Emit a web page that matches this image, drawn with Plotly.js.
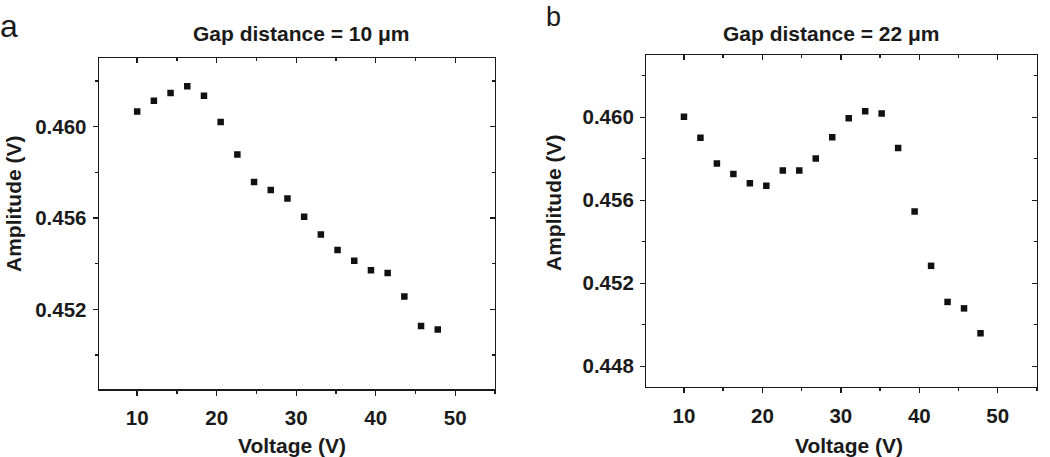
<!DOCTYPE html>
<html>
<head>
<meta charset="utf-8">
<script src="https://cdn.plot.ly/plotly-3.0.1.min.js"></script>
<style>
html,body{margin:0;padding:0;background:#fff;}
#chart{width:1050px;height:457px;}
</style>
</head>
<body>
<div id="chart"></div>
<script>
const voltage = [10, 12.1, 14.2, 16.3, 18.4, 20.5, 22.6, 24.7, 26.8, 28.9, 31.0, 33.1, 35.2, 37.3, 39.4, 41.5, 43.6, 45.7, 47.8];
const ampGap10 = [0.46067, 0.46114, 0.46148, 0.46178, 0.46136, 0.46021, 0.45879, 0.45758, 0.45723, 0.45686, 0.45606, 0.45528, 0.45460, 0.45413, 0.45372, 0.45359, 0.45257, 0.45127, 0.45112];
const ampGap22 = [0.46003, 0.45901, 0.45777, 0.45727, 0.45682, 0.45670, 0.45743, 0.45743, 0.45801, 0.45904, 0.45995, 0.46029, 0.46018, 0.45852, 0.45546, 0.45284, 0.45110, 0.45079, 0.44959];
const titleA = 'Gap distance = 10 μm';
const titleB = 'Gap distance = 22 μm';
const xTitle = 'Voltage (V)';
const yTitle = 'Amplitude (V)';

const FONT = 'Liberation Sans, Arial, Helvetica, sans-serif';
const INK = '#1a1a1a';
const xRange = [5.2, 55];
const yRangeA = [0.4485, 0.4630];
const yRangeB = [0.4470, 0.4630];

const markerStyle = {symbol: 'square', size: 6.5, color: '#111'};
const hidden = {size: 1, opacity: 0};

// x3/y3 and x4/y4 are separate (non-overlaying) subplots sitting on the same frames;
// they only carry the inward top/right ticks.
const data = [
  {x: voltage, y: ampGap10, type: 'scatter', mode: 'markers', marker: markerStyle, xaxis: 'x', yaxis: 'y', hoverinfo: 'x+y'},
  {x: voltage, y: ampGap22, type: 'scatter', mode: 'markers', marker: markerStyle, xaxis: 'x2', yaxis: 'y2', hoverinfo: 'x+y'},
  {x: voltage, y: ampGap10, type: 'scatter', mode: 'markers', marker: hidden, xaxis: 'x3', yaxis: 'y3', hoverinfo: 'skip'},
  {x: voltage, y: ampGap22, type: 'scatter', mode: 'markers', marker: hidden, xaxis: 'x4', yaxis: 'y4', hoverinfo: 'skip'}
];

const tickFont = {family: FONT, size: 20.5, color: INK, weight: 'bold'};

function baseX(domain, anchor) {
  return {
    domain: domain, anchor: anchor, range: xRange, showgrid: false, zeroline: false,
    showline: true, mirror: true, linecolor: INK, linewidth: 1.4,
    tickmode: 'linear', tick0: 0, dtick: 10, ticks: 'outside', ticklen: 5, tickwidth: 1.4, tickcolor: INK,
    minor: {tickmode: 'linear', tick0: 0, dtick: 5, ticks: 'outside', ticklen: 3, tickwidth: 1.4, tickcolor: INK, showgrid: false},
    tickfont: tickFont, ticklabelstandoff: 5
  };
}
function baseY(domain, anchor, range) {
  return {
    domain: domain, anchor: anchor, range: range, showgrid: false, zeroline: false,
    showline: true, mirror: true, linecolor: INK, linewidth: 1.4,
    tickmode: 'linear', tick0: 0.448, dtick: 0.004, tickformat: '.3f',
    ticks: 'outside', ticklen: 5, tickwidth: 1.4, tickcolor: INK,
    minor: {tickmode: 'linear', tick0: 0.448, dtick: 0.002, ticks: 'outside', ticklen: 3, tickwidth: 1.4, tickcolor: INK, showgrid: false},
    tickfont: tickFont, ticklabelstandoff: 2
  };
}
function topX(domain, anchor) {
  return {
    domain: domain, anchor: anchor, side: 'top', range: xRange, showgrid: false, zeroline: false,
    showline: false, showticklabels: false,
    tickmode: 'linear', tick0: 0, dtick: 10, ticks: 'inside', ticklen: 5, tickwidth: 1.4, tickcolor: INK,
    minor: {tickmode: 'linear', tick0: 0, dtick: 5, ticks: 'inside', ticklen: 3, tickwidth: 1.4, tickcolor: INK, showgrid: false}
  };
}
function rightY(domain, anchor, range) {
  return {
    domain: domain, anchor: anchor, side: 'right', range: range, showgrid: false, zeroline: false,
    showline: false, showticklabels: false,
    tickmode: 'linear', tick0: 0.448, dtick: 0.004, ticks: 'inside', ticklen: 5, tickwidth: 1.4, tickcolor: INK,
    minor: {tickmode: 'linear', tick0: 0.448, dtick: 0.002, ticks: 'inside', ticklen: 3, tickwidth: 1.4, tickcolor: INK, showgrid: false}
  };
}

const domXA = [99/1050, 495/1050];
const domXB = [646.3/1050, 1037/1050];
const domYA = [67.7/457, 398.7/457];
const domYB = [70/457, 402/457];

const titleFont = {family: FONT, size: 21, color: INK, weight: 'bold'};

const layout = {
  width: 1050, height: 457,
  margin: {l: 0, r: 0, t: 0, b: 0, pad: 0},
  paper_bgcolor: '#fff', plot_bgcolor: 'rgba(0,0,0,0)',
  showlegend: false,
  xaxis: baseX(domXA, 'y'),
  yaxis: baseY(domYA, 'x', yRangeA),
  xaxis2: baseX(domXB, 'y2'),
  yaxis2: baseY(domYB, 'x2', yRangeB),
  xaxis3: topX(domXA, 'y3'),
  yaxis3: rightY(domYA, 'x3', yRangeA),
  xaxis4: topX(domXB, 'y4'),
  yaxis4: rightY(domYB, 'x4', yRangeB),
  annotations: [
    {text: 'a', xref: 'paper', yref: 'paper', x: 9/1050, y: 1 - 26/457, xanchor: 'center', yanchor: 'middle', showarrow: false, font: {family: FONT, size: 32, color: INK}},
    {text: 'b', xref: 'paper', yref: 'paper', x: 553/1050, y: 1 - 17/457, xanchor: 'center', yanchor: 'middle', showarrow: false, font: {family: FONT, size: 27, color: INK}},
    {text: titleA, xref: 'paper', yref: 'paper', x: 301.7/1050, y: 1 - 34/457, xanchor: 'center', yanchor: 'middle', showarrow: false, font: titleFont},
    {text: titleB, xref: 'paper', yref: 'paper', x: 831.7/1050, y: 1 - 34/457, xanchor: 'center', yanchor: 'middle', showarrow: false, font: titleFont},
    {text: xTitle, xref: 'paper', yref: 'paper', x: 291.5/1050, y: 1 - 445/457, xanchor: 'center', yanchor: 'middle', showarrow: false, font: titleFont},
    {text: xTitle, xref: 'paper', yref: 'paper', x: 848.8/1050, y: 1 - 445/457, xanchor: 'center', yanchor: 'middle', showarrow: false, font: titleFont},
    {text: yTitle, xref: 'paper', yref: 'paper', x: 14/1050, y: 1 - 204/457, xanchor: 'center', yanchor: 'middle', textangle: -90, showarrow: false, font: titleFont},
    {text: yTitle, xref: 'paper', yref: 'paper', x: 554/1050, y: 1 - 203/457, xanchor: 'center', yanchor: 'middle', textangle: -90, showarrow: false, font: titleFont}
  ]
};

Plotly.newPlot('chart', data, layout, {displayModeBar: false, staticPlot: true});
</script>
</body>
</html>
